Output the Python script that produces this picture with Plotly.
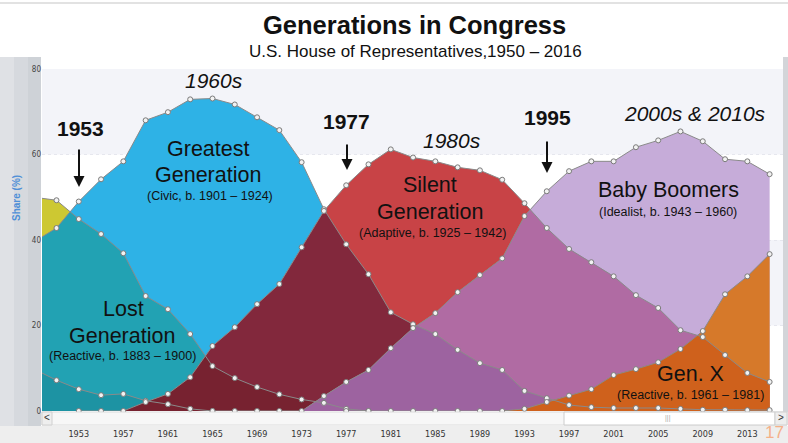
import numpy as np
import plotly.graph_objects as go

# ---------------- data (share of House seats, %) ----------------
years = list(range(1949, 2017, 2))

missionary = [9.8, 7.2, 5.1, 3.7, 4.0, 2.4, 1.6, 0.5, 0.0] + [None] * 25
lost = [50.0, 49.3, 44.9, 41.4, 36.9, 26.9, 23.8, 18.0, 10.5, 7.7, 5.6, 3.9,
        2.7, 1.9, 0.5, 0.0] + [None] * 18
greatest = [39.6, 42.8, 49.0, 54.2, 58.4, 68.0, 69.9, 72.9, 73.1, 71.7, 68.7,
            65.7, 58.2, 47.2, 39.0, 32.0, 23.1, 20.3, 18.0, 14.3, 11.2, 9.6,
            4.7, 3.0, 1.4, 0.9, 0.7, 0.7, 0.7, 0.5, 0.3, 0.3, 0.2, 0.2]
silent = [None, None, 0.0, 0.0, 0.0, 2.1, 4.0, 7.9, 15.2, 19.6, 25.0, 29.7,
          38.3, 46.8, 52.8, 57.7, 61.2, 59.3, 58.4, 57.0, 56.3, 54.1, 48.6,
          42.8, 37.9, 34.8, 31.5, 27.1, 24.1, 18.9, 17.3, 13.1, 8.9, 6.8]
boomers = [None] * 8 + [0.0, 0.0, 0.0, 0.0, 0.0, 3.5, 6.8, 9.6, 14.7, 19.4,
                        22.9, 27.8, 31.8, 35.7, 45.6, 51.4, 56.1, 58.4, 58.4,
                        61.7, 63.3, 65.4, 63.1, 58.9, 58.4, 55.4]
genx = [None] * 14 + [0.0] * 8 + [0.5, 2.1, 3.6, 5.1, 8.4, 9.8, 11.4, 14.5,
                                   18.7, 27.3, 31.5, 36.7]

series = {"missionary": missionary, "lost": lost, "greatest": greatest,
          "silent": silent, "boomers": boomers, "genx": genx}

x_ticks = list(range(1953, 2014, 4))
x_range = [1949.7, 2016.2]

# overlap regions, drawn in order (later ones cover earlier ones)
regions = [
    (["lost"], "#cdc832"),
    (["greatest"], "#2eb2e6"),
    (["lost", "greatest"], "#22a2b3"),
    (["missionary", "lost", "greatest"], "#1d93a3"),
    (["silent"], "#c84346"),
    (["silent", "greatest"], "#82283c"),
    (["silent", "greatest", "lost"], "#772230"),
    (["boomers"], "#c6acd9"),
    (["boomers", "silent"], "#b06ba3"),
    (["boomers", "silent", "greatest"], "#9d63a0"),
    (["genx", "boomers"], "#d6792a"),
    (["genx", "boomers", "silent"], "#cf611c"),
]

FONT = "Liberation Sans, Arial, sans-serif"
NARROW = "Liberation Sans Narrow, Arial Narrow, DejaVu Sans Condensed, sans-serif"

W, H = 788, 443
ML, MR, MT, MB = 42, 5, 69, 32


def px_x(p):
    return (p - ML) / (W - ML - MR)


def px_y(p):
    return (H - MB - p) / (H - MT - MB)


def min_envelope(x, *ys):
    """Lower envelope of piecewise-linear series, with crossing points."""
    x = np.asarray(x, float)
    ys = [np.nan_to_num(np.array(s, dtype=float)) for s in ys]
    low = np.min(ys, axis=0)
    ox, oy = [x[0]], [low[0]]
    for i in range(len(x) - 1):
        ts = []
        for a in range(len(ys)):
            for b in range(a + 1, len(ys)):
                d0 = ys[a][i] - ys[b][i]
                d1 = ys[a][i + 1] - ys[b][i + 1]
                if d0 * d1 < 0:
                    ts.append(d0 / (d0 - d1))
        for t in sorted(ts):
            ox.append(x[i] + t * (x[i + 1] - x[i]))
            oy.append(min(y[i] + t * (y[i + 1] - y[i]) for y in ys))
        ox.append(x[i + 1])
        oy.append(low[i + 1])
    return ox, oy


fig = go.Figure()

for names, color in regions:
    ex, ey = min_envelope(years, *[series[n] for n in names])
    fig.add_trace(go.Scatter(x=ex, y=ey, mode="none", fill="tozeroy",
                             fillcolor=color, hoverinfo="skip"))

for name, vals in series.items():
    fig.add_trace(go.Scatter(x=years, y=vals, mode="lines",
                             line=dict(color="#8a8a8a", width=1),
                             hoverinfo="skip"))
    mk = [v if yr >= x_range[0] else None for yr, v in zip(years, vals)]
    fig.add_trace(go.Scatter(x=years, y=mk, mode="markers", cliponaxis=False,
                             marker=dict(size=5, color="#f2f2f2",
                                         line=dict(color="#7a7a7a", width=1)),
                             name=name))

# ---------------- decorations ----------------
shapes = []
for y0, y1 in [(20, 40), (60, 80)]:
    shapes.append(dict(type="rect", xref="paper", yref="y", x0=0, x1=1,
                       y0=y0, y1=y1, fillcolor="#f3f4f9", line_width=0,
                       layer="below"))


def box(x0, y0, x1, y1, fill, line=None, layer="below"):
    shapes.append(dict(type="rect", xref="paper", yref="paper",
                       x0=px_x(x0), x1=px_x(x1), y0=px_y(y1), y1=px_y(y0),
                       fillcolor=fill, layer=layer,
                       line=dict(width=1 if line else 0, color=line or fill)))


box(0, 57, 14, 426, "#dfe1e5")
box(14, 57, 28, 426, "#d6d9de")
box(28, 57, 41, 426, "#ced2d7")
box(0, 426, 788, 443, "#eeeeee")
box(783, 57, 788, 412, "#d3d5d9")
box(42, 412, 787, 425, "#f7f7f7", "#dcdcdc", layer="above")
box(42, 412, 52, 425, "#eeeeee", "#d0d0d0", layer="above")
box(564, 412, 775, 425, "#ffffff", "#cccccc", layer="above")
box(775, 412, 787, 425, "#eeeeee", "#d0d0d0", layer="above")
shapes.append(dict(type="line", xref="paper", yref="paper", x0=px_x(0),
                   x1=px_x(788), y0=px_y(3), y1=px_y(3),
                   line=dict(color="#e2e2e2", width=2)))

annotations = []


def label(text, x, y, size, color="#111111", family=FONT, **kw):
    annotations.append(dict(text=text, x=px_x(x), y=px_y(y), xref="paper",
                            yref="paper", showarrow=False, xanchor="center",
                            yanchor="middle",
                            font=dict(size=size, color=color, family=family),
                            **kw))


def arrow(x, tip, top):
    annotations.append(dict(text="", x=px_x(x), y=px_y(tip), xref="paper",
                            yref="paper", showarrow=True, ax=0, ay=top - tip,
                            arrowhead=2, arrowsize=1.1, arrowwidth=2,
                            arrowcolor="#111111"))


label("<b>Generations in Congress</b>", 414, 25, 25.5)
label("U.S. House of Representatives,1950 – 2016", 415, 51, 17)

label("<b>1953</b>", 80, 128, 21)
arrow(79, 187, 148)
label("<i>1960s</i>", 214, 80, 21)
label("<b>1977</b>", 346, 122, 21)
arrow(347, 170, 143)
label("<i>1980s</i>", 452, 140, 21)
label("<b>1995</b>", 547, 117, 21)
arrow(547, 173, 140)
label("<i>2000s &amp; 2010s</i>", 695, 113, 21)

label("Greatest", 208, 149, 21.5)
label("Generation", 208, 175, 21.5)
label("(Civic, b. 1901 – 1924)", 210, 196, 12.5)
label("Silent", 430, 185, 21.5)
label("Generation", 430, 212, 21.5)
label("(Adaptive, b. 1925 – 1942)", 432, 233, 12.5)
label("Baby Boomers", 668, 190, 21.5)
label("(Idealist, b. 1943 – 1960)", 668, 212, 12.5)
label("Lost", 123, 309, 21.5)
label("Generation", 122, 336, 21.5)
label("(Reactive, b. 1883 – 1900)", 122, 356, 12.5)
label("Gen. X", 690, 374, 21.5)
label("(Reactive, b. 1961 – 1981)", 690, 395, 12.5)

label("<b>Share (%)</b>", 17, 198, 10, color="#4f8fd8", textangle=-90)
label("17", 774, 432, 17, color="#f5b089", borderpad=0)
label("<", 47, 418, 10, color="#333333")
label(">", 781, 418, 10, color="#333333")
label("|||", 668, 418, 7, color="#aaaaaa")

fig.update_layout(
    width=W, height=H,
    margin=dict(l=ML, r=MR, t=MT, b=MB, autoexpand=False),
    paper_bgcolor="white", plot_bgcolor="white",
    showlegend=False,
    font=dict(family=FONT, color="#222222"),
    shapes=shapes, annotations=annotations,
    xaxis=dict(range=x_range, tickvals=x_ticks, showgrid=False,
               zeroline=False, showline=False, ticks="", automargin=False,
               tickfont=dict(size=9, family=NARROW, color="#333333"),
               ticklabelstandoff=16),
    yaxis=dict(range=[0, 80], tickvals=[0, 20, 40, 60, 80], showgrid=True,
               gridcolor="#e6e7ee", griddash="dot", zeroline=False,
               ticks="", automargin=False,
               tickfont=dict(size=8, family=NARROW, color="#444444")),
)

fig.write_html("out.html", config={"displayModeBar": False},
               post_script="document.body.style.margin='0';")
